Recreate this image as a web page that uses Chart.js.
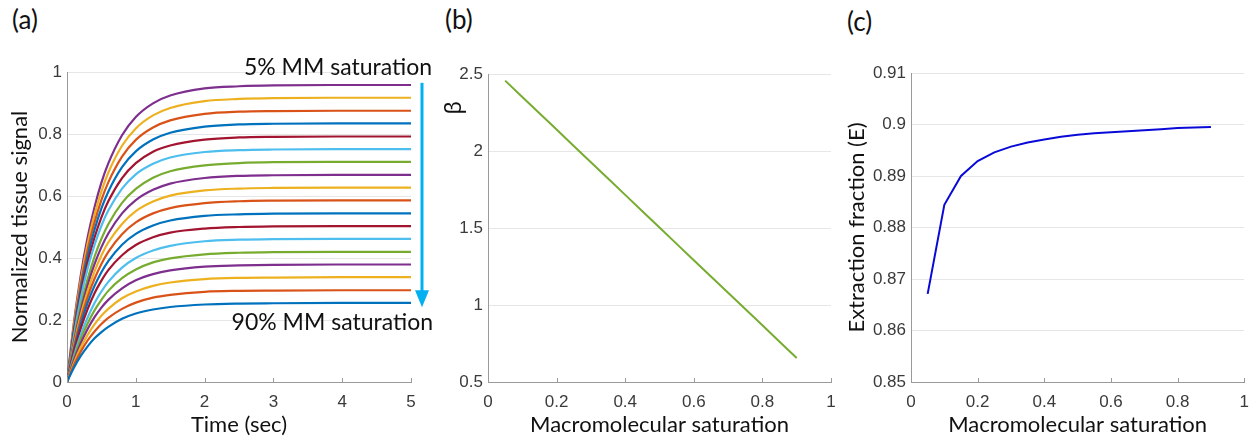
<!DOCTYPE html>
<html>
<head>
<meta charset="utf-8">
<script src="https://cdn.jsdelivr.net/npm/chart.js@4.4.1/dist/chart.umd.min.js"></script>
<style>
  html, body { margin: 0; padding: 0; background: #fff; }
  body { position: relative; width: 1259px; height: 442px; overflow: hidden; }
  canvas { position: absolute; top: 0; }
  .tag { position: absolute; font-family: Lato, "Noto Sans", sans-serif; font-size: 26px; line-height: 1; color: #111; }
</style>
</head>
<body>
<div class="tag" style="left:12px; top:6px;">(a)</div>
<div class="tag" style="left:445px; top:6px;">(b)</div>
<div class="tag" style="left:847px; top:8px;">(c)</div>
<canvas id="chartA" width="445" height="442" style="left:0px"></canvas>
<canvas id="chartB" width="410" height="442" style="left:440px"></canvas>
<canvas id="chartC" width="424" height="442" style="left:835px"></canvas>
<script>
// ---- (a) normalized tissue signal vs time, one curve per MM saturation level ----
const timeSec = [0, 0.1, 0.2, 0.3, 0.4, 0.5, 0.6, 0.8, 1.0, 1.25, 1.5, 2, 2.5, 3, 4, 5];

const signal05 = [0, .191, .344, .467, .564, .643, .705, .796, .855, .899, .924, .947, .954, .957, .958, .958];
const signal10 = [0, .183, .329, .447, .540, .615, .675, .762, .818, .860, .884, .906, .913, .916, .917, .917];
const signal15 = [0, .174, .314, .426, .515, .587, .644, .727, .781, .821, .844, .865, .872, .874, .875, .875];
const signal20 = [0, .166, .299, .406, .491, .560, .614, .693, .744, .782, .804, .824, .831, .833, .834, .834];
const signal25 = [0, .158, .284, .386, .466, .531, .583, .658, .706, .743, .763, .782, .789, .791, .792, .792];
const signal30 = [0, .149, .270, .366, .442, .504, .553, .624, .670, .704, .724, .742, .748, .750, .751, .751];
const signal35 = [0, .135, .244, .332, .404, .462, .509, .578, .623, .659, .680, .699, .706, .709, .710, .710];
const signal40 = [0, .127, .230, .313, .380, .435, .479, .544, .587, .620, .640, .658, .665, .667, .668, .668];
const signal45 = [0, .119, .216, .293, .357, .408, .450, .510, .551, .582, .601, .618, .624, .626, .627, .627];
const signal50 = [0, .111, .202, .274, .333, .381, .420, .477, .515, .544, .561, .577, .583, .585, .586, .586];
const signal55 = [0, .103, .187, .255, .310, .354, .390, .443, .478, .505, .521, .536, .541, .543, .544, .544];
const signal60 = [0, .096, .173, .235, .286, .327, .361, .409, .442, .467, .482, .495, .500, .502, .503, .503];
const signal65 = [0, .084, .152, .208, .255, .292, .323, .369, .400, .424, .439, .454, .459, .461, .462, .462];
const signal70 = [0, .076, .139, .189, .231, .265, .294, .335, .363, .386, .399, .412, .417, .419, .420, .420];
const signal75 = [0, .069, .125, .171, .209, .240, .265, .302, .328, .348, .360, .372, .376, .378, .379, .379];
const signal80 = [0, .061, .112, .152, .186, .214, .236, .270, .292, .310, .321, .332, .336, .337, .338, .338];
const signal85 = [0, .054, .098, .134, .163, .187, .207, .236, .256, .272, .281, .291, .294, .295, .296, .296];
const signal90 = [0, .046, .084, .115, .141, .161, .178, .204, .221, .234, .242, .250, .253, .254, .255, .255];

// drawn from 90% up to 5%, cycling the default line colours
const signalCurves = [signal90, signal85, signal80, signal75, signal70, signal65, signal60, signal55, signal50,
                      signal45, signal40, signal35, signal30, signal25, signal20, signal15, signal10, signal05];
const lineColors = ['#0072BD', '#D95319', '#EDB120', '#7E2F8E', '#77AC30', '#4DBEEE', '#A2142F'];

const signalTicks = [0, 0.2, 0.4, 0.6, 0.8, 1];
const timeTicks = [0, 1, 2, 3, 4, 5];

// ---- (b) beta and (c) extraction fraction vs macromolecular saturation ----
const mmSaturation = [0.05, 0.10, 0.15, 0.20, 0.25, 0.30, 0.35, 0.40, 0.45, 0.50, 0.55, 0.60, 0.65, 0.70, 0.75, 0.80, 0.85, 0.90];
const betaValues = [2.457, 2.351, 2.245, 2.139, 2.033, 1.927, 1.821, 1.715, 1.609, 1.503, 1.397, 1.291, 1.185, 1.080, 0.974, 0.868, 0.762, 0.656];
const extractionValues = [0.8671, 0.8844, 0.8900, 0.8929, 0.8946, 0.8957, 0.8965, 0.8971, 0.8976, 0.8980, 0.8983, 0.8985, 0.8987, 0.8989, 0.8991, 0.8993, 0.8994, 0.8995];

const satTicks = [0, 0.2, 0.4, 0.6, 0.8, 1];
const betaTicks = [0.5, 1, 1.5, 2, 2.5];
const extractionTicks = [0.85, 0.86, 0.87, 0.88, 0.89, 0.9, 0.91];

// ---- shared styling ----
const AXIS_GRAY = '#9a9a9a';
const GRID_GRAY = '#e6e6e6';
const TICK_FONT = { family: '"Liberation Sans", Arial, sans-serif', size: 17 };
const TICK_COLOR = '#3a3a3a';
const TITLE_FONT = { family: 'Lato, "Noto Sans", sans-serif', size: 22 };
const TITLE_COLOR = '#111';

function pairs(xs, ys) { return xs.map((x, i) => ({ x: x, y: ys[i] })); }

function fixedTicks(values) {
  return function (scale) { scale.ticks = values.map(v => ({ value: v })); };
}

// short tick marks pointing into the plot along the bottom axis
const inwardTicks = {
  id: 'inwardTicks',
  afterDatasetsDraw(chart) {
    const { ctx, chartArea, scales } = chart;
    ctx.save();
    ctx.strokeStyle = AXIS_GRAY;
    ctx.lineWidth = 1;
    scales.x.ticks.forEach(t => {
      const px = Math.round(scales.x.getPixelForValue(t.value)) + 0.5;
      ctx.beginPath();
      ctx.moveTo(px, chartArea.bottom);
      ctx.lineTo(px, chartArea.bottom - 4);
      ctx.stroke();
    });
    ctx.restore();
  }
};

function makeOptions(o) {
  return {
    responsive: false,
    animation: false,
    events: [],
    layout: { padding: o.padding },
    plugins: { legend: { display: false }, tooltip: { enabled: false } },
    elements: { point: { radius: 0 }, line: { borderWidth: 2 } },
    scales: {
      x: {
        type: 'linear', min: o.xMin, max: o.xMax,
        afterBuildTicks: fixedTicks(o.xTicks),
        afterFit(scale) { scale.height = 60; },
        grid: { display: true, drawOnChartArea: false, drawTicks: false },
        border: { display: true, color: AXIS_GRAY, width: 1 },
        ticks: { font: TICK_FONT, color: TICK_COLOR, padding: 10, maxRotation: 0, autoSkip: false,
                 callback: v => String(+v.toFixed(2)) },
        title: { display: true, text: o.xTitle, font: TITLE_FONT, color: TITLE_COLOR, padding: { top: 0, bottom: 3.5 } }
      },
      y: {
        type: 'linear', min: o.yMin, max: o.yMax,
        afterBuildTicks: fixedTicks(o.yTicks),
        afterFit(scale) { scale.width = o.yWidth; },
        grid: { color: GRID_GRAY, lineWidth: 1, drawTicks: false },
        border: { display: true, color: AXIS_GRAY, width: 1 },
        ticks: { font: TICK_FONT, color: TICK_COLOR, padding: 5, autoSkip: false,
                 callback: v => String(+v.toFixed(2)) },
        title: { display: !!o.yTitle, text: o.yTitle || '', font: TITLE_FONT, color: TITLE_COLOR,
                 padding: { top: o.yTitlePad || 0, bottom: 0 } }
      }
    }
  };
}

// ---- panel (a) ----
const annotateA = {
  id: 'annotateA',
  afterDraw(chart) {
    const { ctx, chartArea, scales } = chart;
    const ax = chartArea.right + 11;
    const yTop = scales.y.getPixelForValue(0.965);
    const yTip = scales.y.getPixelForValue(0.241);
    const yBase = scales.y.getPixelForValue(0.296);
    ctx.save();
    ctx.strokeStyle = '#00B0F0';
    ctx.fillStyle = '#00B0F0';
    ctx.lineWidth = 3;
    ctx.beginPath();
    ctx.moveTo(ax, yTop);
    ctx.lineTo(ax, yBase + 1);
    ctx.stroke();
    ctx.beginPath();
    ctx.moveTo(ax - 7, yBase);
    ctx.lineTo(ax + 7, yBase);
    ctx.lineTo(ax, yTip);
    ctx.closePath();
    ctx.fill();
    ctx.fillStyle = '#111';
    ctx.font = '23px Lato, "Noto Sans", sans-serif';
    ctx.textAlign = 'right';
    ctx.textBaseline = 'alphabetic';
    ctx.fillText('5% MM saturation', chartArea.right + 21, scales.y.getPixelForValue(0.99));
    ctx.fillText('90% MM saturation', chartArea.right + 22, scales.y.getPixelForValue(0.167));
    ctx.restore();
  }
};

new Chart(document.getElementById('chartA'), {
  type: 'line',
  data: {
    datasets: signalCurves.map((curve, i) => ({
      data: pairs(timeSec, curve),
      borderColor: lineColors[i % lineColors.length],
      borderWidth: 2.2,
      cubicInterpolationMode: 'monotone',
      fill: false
    }))
  },
  options: makeOptions({
    padding: { left: 0, top: 72, right: 34, bottom: 0 },
    xMin: 0, xMax: 5, xTicks: timeTicks, xTitle: 'Time (sec)',
    yMin: 0, yMax: 1, yTicks: signalTicks, yTitle: 'Normalized tissue signal', yTitlePad: 7,
    yWidth: 67
  }),
  plugins: [inwardTicks, annotateA]
});

// ---- panel (b) ----
const betaLabel = {
  id: 'betaLabel',
  afterDraw(chart) {
    const { ctx, scales } = chart;
    ctx.save();
    ctx.translate(15, scales.y.getPixelForValue(2.28));
    ctx.rotate(-Math.PI / 2);
    ctx.fillStyle = TITLE_COLOR;
    ctx.font = '22px "Noto Sans", "DejaVu Sans", sans-serif';
    ctx.textAlign = 'center';
    ctx.textBaseline = 'middle';
    ctx.fillText('β', 0, 0);
    ctx.restore();
  }
};

new Chart(document.getElementById('chartB'), {
  type: 'line',
  data: {
    datasets: [{ data: pairs(mmSaturation, betaValues), borderColor: '#77AC30', borderWidth: 2, fill: false }]
  },
  options: makeOptions({
    padding: { left: 0, top: 74, right: 19, bottom: 0 },
    xMin: 0, xMax: 1, xTicks: satTicks, xTitle: 'Macromolecular saturation',
    yMin: 0.5, yMax: 2.5, yTicks: betaTicks, yTitle: '',
    yWidth: 48
  }),
  plugins: [inwardTicks, betaLabel]
});

// ---- panel (c) ----
new Chart(document.getElementById('chartC'), {
  type: 'line',
  data: {
    datasets: [{ data: pairs(mmSaturation, extractionValues), borderColor: '#0a0ad8', borderWidth: 2, fill: false }]
  },
  options: makeOptions({
    padding: { left: 0, top: 73, right: 8, bottom: 0 },
    xMin: 0, xMax: 1, xTicks: satTicks, xTitle: 'Macromolecular saturation',
    yMin: 0.85, yMax: 0.91, yTicks: extractionTicks, yTitle: 'Extraction fraction (E)', yTitlePad: 8.5,
    yWidth: 76
  }),
  plugins: [inwardTicks]
});
</script>
</body>
</html>
